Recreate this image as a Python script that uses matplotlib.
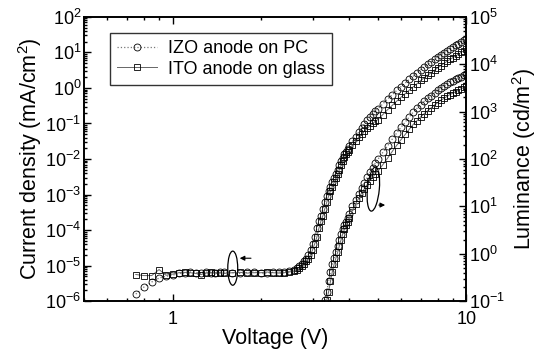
import numpy as np
import matplotlib
matplotlib.use('Agg')
import matplotlib.pyplot as plt
from matplotlib.patches import Ellipse
from matplotlib.ticker import LogLocator, NullFormatter, FixedLocator, FixedFormatter

plt.rcParams['font.family'] = ['Liberation Sans', 'DejaVu Sans']
plt.rcParams['mathtext.fontset'] = 'custom'
plt.rcParams['mathtext.rm'] = 'Liberation Sans'
plt.rcParams['mathtext.it'] = 'Liberation Sans:italic'
plt.rcParams['mathtext.bf'] = 'Liberation Sans:bold'

# voltage sweep (V) for current density
volt_j = [0.75, 0.8, 0.85, 0.9, 0.95, 1.0, 1.05, 1.1, 1.15, 1.2, 1.25, 1.3, 1.35, 1.4, 1.45, 1.5,
          1.6, 1.7, 1.8, 1.9, 2.0, 2.1, 2.2, 2.3, 2.4, 2.5, 2.6,
          2.65, 2.7, 2.75, 2.8, 2.85, 2.9, 2.95, 3.0, 3.05, 3.1, 3.15, 3.2, 3.25, 3.3, 3.35, 3.4,
          3.45, 3.5, 3.55, 3.6, 3.65, 3.7, 3.75, 3.8, 3.85, 3.9, 3.95, 4.0,
          4.1, 4.2, 4.3, 4.4, 4.5, 4.6, 4.7, 4.8, 4.9, 5.0,
          5.2, 5.4, 5.6, 5.8, 6.0, 6.2, 6.4, 6.6, 6.8, 7.0, 7.2, 7.4, 7.6, 7.8, 8.0,
          8.2, 8.4, 8.6, 8.8, 9.0, 9.2, 9.4, 9.6, 9.8, 10.0]

# log10 of current density (mA/cm2)
logj_izo = [-5.8, -5.6, -5.46, -5.35, -5.3, -5.27, -5.22, -5.2, -5.18, -5.2, -5.2, -5.18, -5.2, -5.22, -5.19, -5.18,
            -5.2, -5.22, -5.19, -5.18, -5.21, -5.2, -5.19, -5.18, -5.19, -5.16, -5.12,
            -5.08, -5.02, -4.95, -4.88, -4.8, -4.7, -4.55, -4.38, -4.2, -3.95, -3.75, -3.6, -3.4, -3.22, -3.04, -2.9,
            -2.78, -2.66, -2.53, -2.42, -2.3, -2.18, -2.06, -1.96, -1.87, -1.79, -1.72, -1.64,
            -1.5, -1.37, -1.25, -1.14, -1.02, -0.91, -0.81, -0.72, -0.65, -0.59,
            -0.45, -0.31, -0.19, -0.07, 0.04, 0.14, 0.24, 0.33, 0.42, 0.51, 0.59, 0.66, 0.73, 0.8, 0.87,
            0.93, 0.99, 1.05, 1.1, 1.15, 1.2, 1.25, 1.3, 1.34, 1.39]

logj_ito = [-5.25, -5.28, -5.28, -5.11, -5.27, -5.24, -5.2, -5.19, -5.2, -5.22, -5.25, -5.21, -5.19, -5.2, -5.2, -5.22,
            -5.2, -5.19, -5.21, -5.2, -5.2, -5.18, -5.2, -5.21, -5.2, -5.18, -5.15,
            -5.13, -5.08, -5.02, -4.95, -4.88, -4.8, -4.7, -4.55, -4.38, -4.2, -3.95, -3.75, -3.6, -3.4, -3.22, -3.04,
            -2.9, -2.78, -2.66, -2.53, -2.42, -2.3, -2.18, -2.05, -1.95, -1.87, -1.8, -1.75,
            -1.62, -1.5, -1.39, -1.3, -1.22, -1.14, -1.07, -1.0, -0.94, -0.89,
            -0.75, -0.61, -0.49, -0.37, -0.26, -0.16, -0.06, 0.03, 0.12, 0.21, 0.29, 0.36, 0.43, 0.5, 0.57,
            0.63, 0.69, 0.75, 0.8, 0.85, 0.9, 0.95, 1.0, 1.04, 1.09]

# voltage sweep (V) for luminance
volt_l = [3.3, 3.35, 3.4, 3.45, 3.5, 3.55, 3.6, 3.65, 3.7, 3.75, 3.8, 3.85, 3.9, 3.95, 4.0,
          4.1, 4.2, 4.3, 4.4, 4.5, 4.6, 4.7, 4.8, 4.9, 5.0,
          5.2, 5.4, 5.6, 5.8, 6.0, 6.2, 6.4, 6.6, 6.8, 7.0, 7.2, 7.4, 7.6, 7.8, 8.0,
          8.2, 8.4, 8.6, 8.8, 9.0, 9.2, 9.4, 9.6, 9.8, 10.0]

# log10 of luminance (cd/m2)
logl_izo = [-0.98, -0.8, -0.58, -0.38, -0.22, -0.09, 0.03, 0.17, 0.3, 0.42, 0.52, 0.6, 0.68, 0.76, 0.84,
            1.0, 1.14, 1.27, 1.39, 1.5, 1.61, 1.72, 1.82, 1.91, 1.99,
            2.14, 2.28, 2.42, 2.55, 2.67, 2.78, 2.89, 2.99, 3.07, 3.15, 3.22, 3.28, 3.34, 3.4, 3.45,
            3.5, 3.54, 3.58, 3.62, 3.65, 3.68, 3.71, 3.74, 3.77, 3.8]

logl_ito = [-1.2, -0.98, -0.8, -0.58, -0.38, -0.22, -0.09, 0.03, 0.17, 0.3, 0.42, 0.52, 0.6, 0.68, 0.76,
            0.92, 1.05, 1.17, 1.28, 1.37, 1.46, 1.54, 1.62, 1.68, 1.74,
            1.88, 2.02, 2.16, 2.29, 2.41, 2.52, 2.63, 2.73, 2.81, 2.89, 2.96, 3.02, 3.08, 3.14, 3.19,
            3.24, 3.28, 3.32, 3.36, 3.39, 3.42, 3.45, 3.48, 3.51, 3.54]

fig = plt.figure(figsize=(5.39, 3.51), dpi=100)
ax = fig.add_axes([0.156, 0.142, 0.709, 0.81])
ax2 = ax.twinx()

izo_style = dict(color='#777777', ls=':', lw=0.9, marker='o', ms=5, mfc='none', mec='black', mew=0.6)
ito_style = dict(color='#666666', ls='-', lw=0.7, marker='s', ms=4.8, mfc='none', mec='black', mew=0.6)

vj = np.array(volt_j)
vl = np.array(volt_l)
ax.plot(vj, 10 ** np.array(logj_izo), label='IZO anode on PC', **izo_style)
ax.plot(vj, 10 ** np.array(logj_ito), label='ITO anode on glass', **ito_style)
ax2.plot(vl, 10 ** np.array(logl_izo), **izo_style)
ax2.plot(vl, 10 ** np.array(logl_ito), **ito_style)

ax.set_xscale('log')
ax.set_yscale('log')
ax2.set_yscale('log')
ax.set_xlim(0.5, 10)
ax.set_ylim(1e-6, 1e2)
ax2.set_ylim(1e-1, 1e5)

ax.xaxis.set_major_locator(FixedLocator([1, 10]))
ax.xaxis.set_major_formatter(FixedFormatter(['1', '10']))
ax.xaxis.set_minor_locator(FixedLocator([0.5, 0.6, 0.7, 0.8, 0.9, 2, 3, 4, 5, 6, 7, 8, 9]))
ax.xaxis.set_minor_formatter(NullFormatter())

ax.set_yticks([10.0 ** k for k in range(-6, 3)])
ax.yaxis.set_minor_locator(LogLocator(base=10, subs=np.arange(2, 10), numticks=100))
ax.yaxis.set_minor_formatter(NullFormatter())
ax2.set_yticks([10.0 ** k for k in range(-1, 6)])
ax2.yaxis.set_minor_locator(LogLocator(base=10, subs=np.arange(2, 10), numticks=100))
ax2.yaxis.set_minor_formatter(NullFormatter())

ax.tick_params(which='both', direction='in', top=True, right=False, labelsize=13, width=1)
ax.tick_params(which='major', length=5)
ax.tick_params(which='minor', length=2.5)
ax.tick_params(axis='y', pad=2)
ax.tick_params(axis='x', pad=7)
ax2.tick_params(which='both', direction='in', labelsize=13, width=1, pad=2)
ax2.tick_params(which='major', length=5)
ax2.tick_params(which='minor', length=2.5)

for a in (ax, ax2):
    for s in a.spines.values():
        s.set_linewidth(1.2)

ax.set_xlabel('Voltage (V)', fontsize=15.5, labelpad=0)
ax.set_ylabel('Current density (mA/cm$^2$)', fontsize=15.5, labelpad=1)
ax2.set_ylabel('Luminance (cd/m$^2$)', fontsize=15.5, labelpad=4)

leg = ax.legend(loc='upper left', bbox_to_anchor=(0.068, 0.944), borderaxespad=0,
                fontsize=13, frameon=True, fancybox=False, edgecolor='black',
                handlelength=2.2, handletextpad=0.6, borderpad=0.4, labelspacing=0.2)
leg.get_frame().set_linewidth(1.0)

# ellipses + arrows marking which axis each curve set belongs to
ax.add_patch(Ellipse((0.389, 0.116), 0.026, 0.12, transform=ax.transAxes,
                     fill=False, lw=0.9, color='black'))
ax.annotate('', xy=(0.40, 0.151), xytext=(0.444, 0.151), xycoords='axes fraction',
            arrowprops=dict(arrowstyle='-|>', lw=0.8, color='black', mutation_scale=7))
ax.add_patch(Ellipse((0.757, 0.394), 0.031, 0.155, angle=-4, transform=ax.transAxes,
                     fill=False, lw=0.9, color='black'))
ax.annotate('', xy=(0.795, 0.338), xytext=(0.764, 0.338), xycoords='axes fraction',
            arrowprops=dict(arrowstyle='-|>', lw=0.8, color='black', mutation_scale=7))

fig.savefig('out.png', dpi=100)
